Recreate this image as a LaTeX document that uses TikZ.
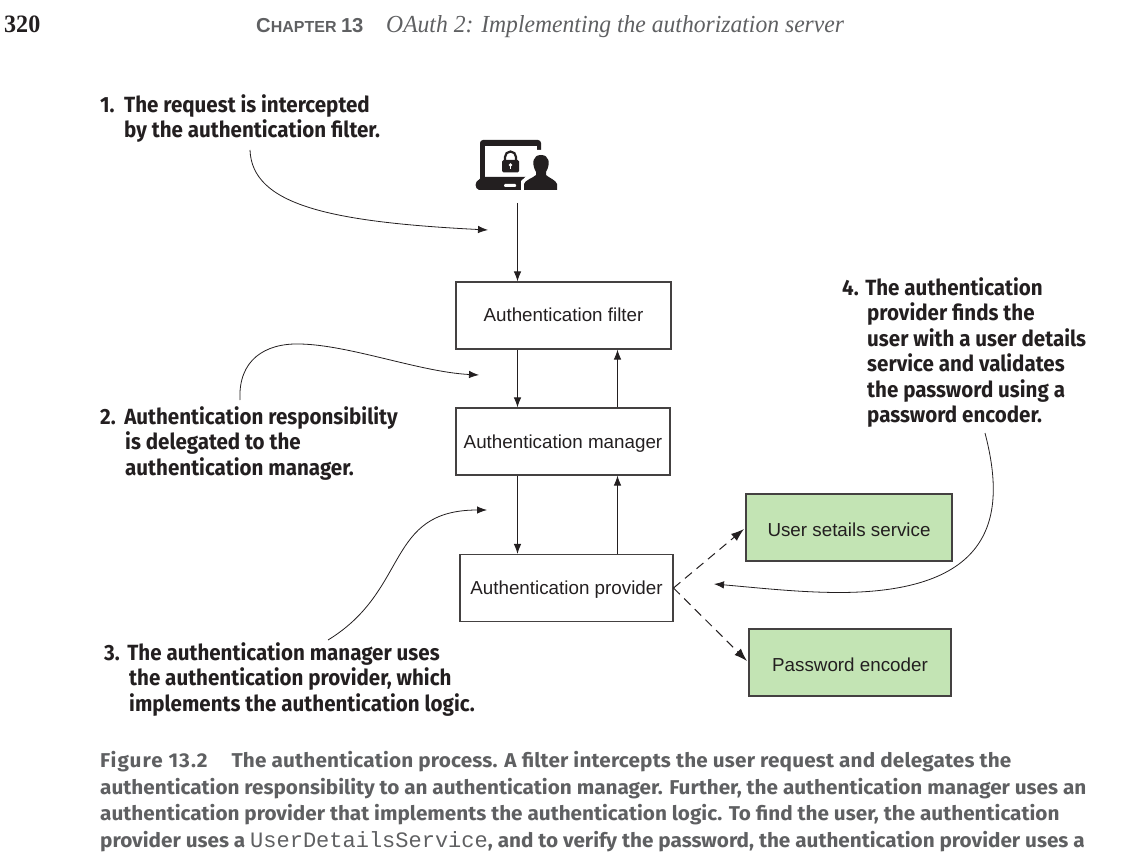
\documentclass[tikz,border=0pt]{standalone}
\usepackage{fontspec}
\setmainfont{Liberation Sans}
\newfontfamily\calloutfont[FakeStretch=0.935]{Fira Sans}
\newfontfamily\capfont[FakeStretch=1.036]{Fira Sans}
\newfontfamily\capmono{Liberation Mono}
\newfontfamily\headserif[FakeStretch=0.964]{Liberation Serif}
\newfontfamily\headsans{Liberation Sans}
\usetikzlibrary{arrows.meta}
\definecolor{boxgreen}{HTML}{C3E4B4}
\definecolor{capgray}{HTML}{5F6062}
\definecolor{inkdark}{HTML}{231F20}
\tikzset{
  x=1pt,y=-1pt,
  box/.style={draw=inkdark!85,line width=1.1pt,minimum height=67pt,inner sep=0pt,text depth=0pt,font=\fontsize{18.8}{20}\selectfont,text=inkdark},
  greenbox/.style={box,fill=boxgreen},
  flow/.style={draw=inkdark,line width=1pt,-{Latex[length=10pt,width=7.5pt]}},
  depends/.style={draw=inkdark,line width=1pt,dashed,dash pattern=on 9pt off 6pt,-{Latex[length=13pt,width=9pt]}},
  note/.style={draw=inkdark,line width=.8pt,-{Latex[length=10pt,width=7.5pt]}},
  callout/.style={anchor=north west,align=left,inner sep=0pt,text=inkdark,font=\calloutfont\bfseries\fontsize{22}{25.5}\selectfont},
  caption/.style={anchor=north west,align=left,inner sep=0pt,text=capgray,font=\capfont\bfseries\fontsize{20}{26.6}\selectfont},
}
\begin{document}
\begin{tikzpicture}
\useasboundingbox (0,0) rectangle (1121,858);
% header
\node[anchor=base west,inner sep=0pt,font=\headserif\bfseries\fontsize{25}{26}\selectfont,text=inkdark] (pageno) at (4,33) {320};
\node[anchor=base west,inner sep=0pt,font=\headsans\bfseries\fontsize{20.2}{24}\selectfont,text=capgray] (chapter) at (256,33) {C\fontsize{16}{24}\selectfont HAPTER \fontsize{20.2}{24}\selectfont 13};
\node[anchor=base west,inner sep=0pt,font=\headserif\itshape\fontsize{24.5}{26}\selectfont,text=capgray] (title) at (386,33) {OAuth 2: Implementing the authorization server};
% boxes
\node[box,text height=13pt,minimum width=215pt] (filter) at (563.5,315.5) {Authentication filter};
\node[box,text height=13pt,minimum width=214pt] (manager) at (563,441.5) {Authentication manager};
\node[box,text height=13pt,minimum width=213pt] (provider) at (566.5,588) {Authentication provider};
\node[greenbox,text height=17pt,minimum width=206pt] (details) at (849,527.5) {User setails service};
\node[greenbox,text height=18.4pt,minimum width=202pt] (encoder) at (850,662.5) {Password encoder};
% icon
\fill[inkdark,rounded corners=3pt] (480,140) rectangle (541,186);
\fill[white] (485,146) rectangle (537,177);
\fill[inkdark,rounded corners=2pt] (475,183) -- (482,177) -- (535,177) -- (535,190) -- (477,190) -- cycle;
\fill[white,rounded corners=1pt] (504,184) rectangle (516,187);
\fill[inkdark,rounded corners=1.5pt] (502,160) rectangle (519,172.5);
\draw[inkdark,line width=2.2pt] (505,161) -- (505,157) arc[start angle=180,end angle=360,radius=5.5] -- (516,161);
\fill[white] (510.5,165) circle (1.9);
\fill[white] (509.7,165) rectangle (511.3,169.5);
\fill[white] (521,190.5) -- (521,181) -- (530,173) -- (533,150) -- (549,150) -- (553,172) -- (560,181) -- (560,190.5) -- cycle;
\fill[inkdark] (524,190) -- (524,184) .. controls (525,180) and (533,178) .. (536,175) -- (536,172) .. controls (531,163) and (533,155) .. (541,155) .. controls (549,155) and (551,163) .. (546,172) -- (546,175) .. controls (549,178) and (556,180) .. (557,184) -- (557,190) -- cycle;
\coordinate (iconfoot) at (517.5,203);
\coordinate (lane) at (517.5,0);
\coordinate (uplane) at (617.5,0);
% flows
\draw[flow] (iconfoot) -- (filter.north -| lane);
\draw[flow] (filter.south -| lane) -- (manager.north -| lane);
\draw[flow] (manager.north -| uplane) -- (filter.south -| uplane);
\draw[flow] (manager.south -| lane) -- (provider.north -| lane);
\draw[flow] (provider.north -| uplane) -- (manager.south -| uplane);
\coordinate (fork) at (673.5,588);
\coordinate (detailsin) at (744,529);
\coordinate (encoderin) at (747,661);
\draw[depends] (fork) -- (detailsin);
\draw[depends] (fork) -- (encoderin);
% callouts
\node[callout] (c1) at (100,94) {1.\hspace{3pt} The request is intercepted\\\hspace*{24pt}by the authentication filter.};
\node[callout] (c2) at (100,406) {2.\hspace{2pt} Authentication responsibility\\\hspace*{25pt}is delegated to the\\\hspace*{25pt}authentication manager.};
\node[callout] (c3) at (104,642) {3.\hspace{1pt} The authentication manager uses\\\hspace*{25pt}the authentication provider, which\\\hspace*{25pt}implements the authentication logic.};
\node[callout] (c4) at (842,277) {4. The authentication\\\hspace*{25pt}provider finds the\\\hspace*{25pt}user with a user details\\\hspace*{25pt}service and validates\\\hspace*{25pt}the password using a\\\hspace*{25pt}password encoder.};
\coordinate (t1) at (488,230);
\coordinate (t2) at (479,375);
\coordinate (t3) at (487,510);
\coordinate (t4) at (714,584);
\coordinate (s1) at (250,150);
\coordinate (s2) at (240,400);
\coordinate (s3) at (328,640);
\coordinate (s4) at (985,433);
\draw[note] (s1) .. controls (252,205) and (330,222) .. (t1);
\draw[note] (s2) .. controls (238,360) and (265,343) .. (300,344) .. controls (350,345) and (420,372) .. (t2);
\draw[note] (s3) .. controls (410,590) and (385,510) .. (t3);
\draw[note] (s4) .. controls (1005,510) and (1000,592) .. (840,592.5) .. controls (800,592.5) and (760,588) .. (t4);
% caption
\node[caption] (cap) at (100,751) {{\addfontfeature{LetterSpace=5}Figure 13.2}\hspace{19pt} {\addfontfeature{LetterSpace=0.9}The authentication process. A filter intercepts the user request and delegates the}\\authentication responsibility to an authentication manager. Further, the authentication manager uses an\\authentication provider that implements the authentication logic. To find the user, the authentication\\provider uses a {\capmono\mdseries\fontsize{22}{26.6}\selectfont UserDetailsService}, and to verify the password, the authentication provider uses a};
\end{tikzpicture}
\end{document}
